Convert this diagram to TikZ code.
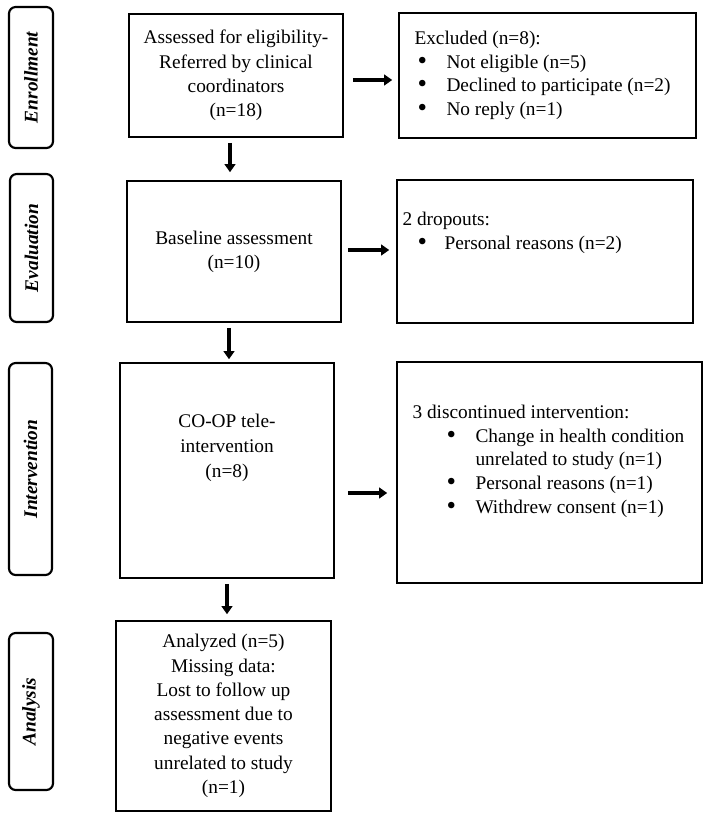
\documentclass[tikz,border=0pt]{standalone}
\usepackage{fontspec}
\setmainfont{Liberation Serif}
\usetikzlibrary{arrows.meta,calc}

\newcommand{\bigbul}{\smash{\raisebox{-0.1ex}{\scalebox{1.4}{\textbullet}}}}
\newcommand{\bitem}[3]{\hspace*{#1}\makebox[#2][l]{\bigbul}#3}

\tikzset{every picture/.style={line width=0.75pt}}
\tikzset{
  stagebox/.style={draw,line width=1.6pt,rounded corners=5pt,rotate=90,inner sep=0pt,
    font=\fontsize{14.5}{18.2}\selectfont\bfseries\itshape},
  flowbox/.style={draw,line width=1.2pt,inner sep=0pt,align=center,
    font=\fontsize{14.5}{18.2}\selectfont},
  boxtext/.style={inner sep=0pt,font=\fontsize{14.5}{17.8}\selectfont},
  flowarrow/.style={line width=3pt,-{Triangle[width=8pt,length=6pt]}}
}

\begin{document}
\begin{tikzpicture}[x=0.75pt,y=0.75pt,yscale=-1,xscale=1]
\useasboundingbox (0,0) rectangle (709,818);

% Stage labels
\node[stagebox,minimum width=105.75pt,minimum height=33pt] (enrol) at (31,77.5) {Enrollment};
\node[stagebox,minimum width=111pt,minimum height=32.25pt] (evalst) at (31.5,248) {Evaluation};
\node[stagebox,minimum width=159pt,minimum height=32.25pt] (interv) at (30.5,469) {Intervention};
\node[stagebox,minimum width=117.75pt,minimum height=33pt] (analys) at (31,711.5) {Analysis};

% Main flow boxes
\node[flowbox,minimum width=160.5pt,minimum height=92.25pt] (assess) at (236,75.5)
  {Assessed for eligibility-\\Referred by clinical\\coordinators\\(n=18)};
\node[flowbox,minimum width=160.5pt,minimum height=105.75pt] (baseline) at (234,251.5)
  {Baseline assessment\\(n=10)};
\node[flowbox,minimum width=160.5pt,minimum height=161.25pt] (teleint) at (227,470.5) {};
\node[boxtext,anchor=north,align=center,font=\fontsize{14.5}{18.6}\selectfont] (teletxt) at (227,413.5)
  {CO-OP tele-\\intervention\\(n=8)};
\node[flowbox,minimum width=161.25pt,minimum height=142.5pt] (analyzed) at (223.5,716)
  {Analyzed (n=5)\\Missing data:\\Lost to follow up\\assessment due to\\negative events\\unrelated to study\\(n=1)};

% Side boxes
\node[flowbox,minimum width=222.75pt,minimum height=93.75pt] (excl) at (547.5,75.5) {};
\node[boxtext,anchor=north west,align=left] (excltxt) at (414,30.5)
  {Excluded (n=8):\\
   \bitem{2.25pt}{21.75pt}{Not eligible (n=5)}\\
   \bitem{2.25pt}{21.75pt}{Declined to participate (n=2)}\\
   \bitem{2.25pt}{21.75pt}{No reply (n=1)}};
\node[flowbox,minimum width=222pt,minimum height=107.25pt] (drop) at (545,251.5) {};
\node[boxtext,anchor=north west,align=left] (droptxt) at (402,211.5)
  {2 dropouts:\\
   \bitem{11.25pt}{20.25pt}{Personal reasons (n=2)}};
\node[flowbox,minimum width=228.75pt,minimum height=165.75pt] (disc) at (549.5,472.5) {};
\node[boxtext,anchor=north west,align=left] (disctxt) at (412,404.5)
  {3 discontinued intervention:\\
   \bitem{25.5pt}{21.75pt}{Change in health condition}\\
   \hspace*{47.25pt}unrelated to study (n=1)\\
   \bitem{25.5pt}{21.75pt}{Personal reasons (n=1)}\\
   \bitem{25.5pt}{21.75pt}{Withdrew consent (n=1)}};

% Arrows down
\draw[flowarrow] ($(assess.south)+(-6,5)$) -- ($(baseline.north)+(-4,-8)$);
\draw[flowarrow] ($(baseline.south)+(-5,5)$) -- ($(teleint.north)+(2,-3)$);
\draw[flowarrow] ($(teleint.south)+(0,5)$) -- ($(analyzed.north)+(3.5,-6)$);

% Arrows right
\draw[flowarrow] ($(assess.east)+(9,4.5)$) -- ($(excl.west)+(-6,4.5)$);
\draw[flowarrow] ($(baseline.east)+(6,-1.5)$) -- ($(drop.west)+(-7,-1.5)$);
\draw[flowarrow] ($(teleint.east)+(13,22.5)$) -- ($(disc.west)+(-9,20.5)$);

\end{tikzpicture}
\end{document}
